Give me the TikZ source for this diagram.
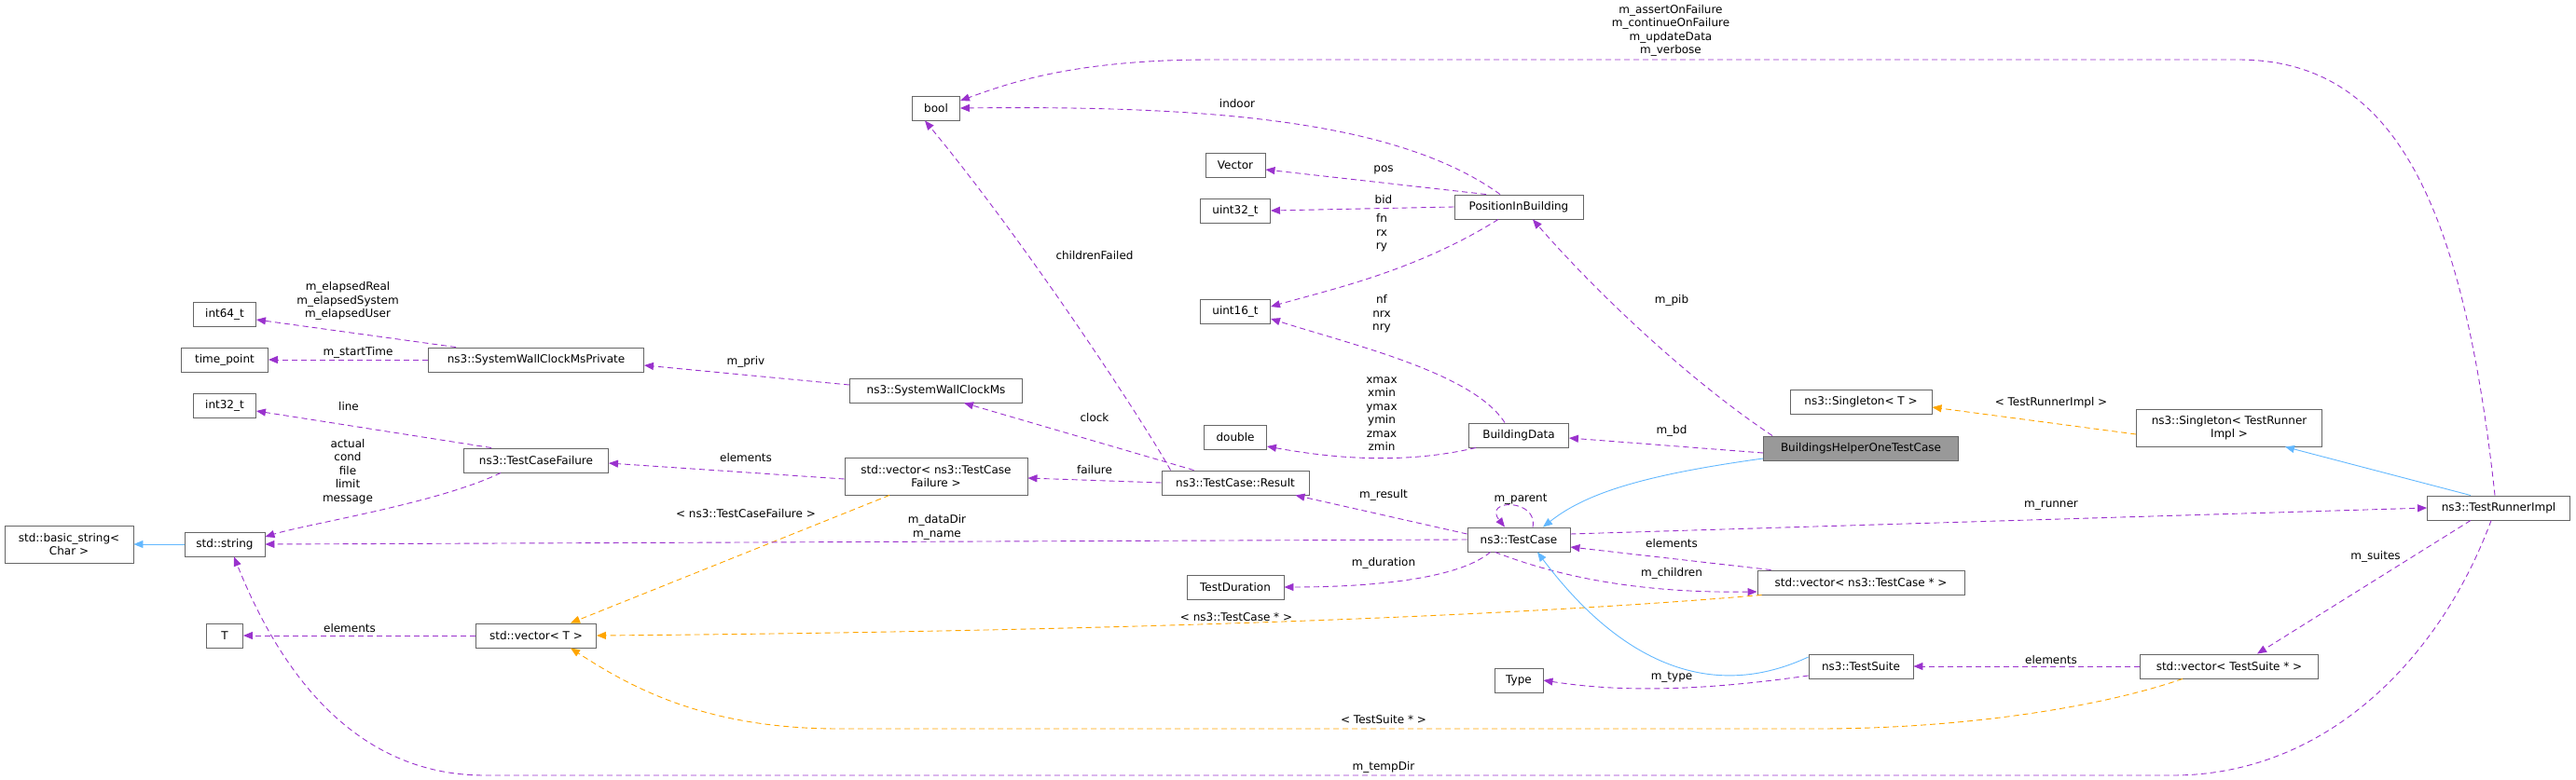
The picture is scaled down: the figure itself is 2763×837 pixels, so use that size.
\documentclass[tikz,border=0pt]{standalone}
\usepackage{fontspec}
\setmainfont{DejaVu Sans}
\usetikzlibrary{arrows.meta}
\definecolor{pu}{HTML}{9A32CD}
\definecolor{orr}{HTML}{FFA500}
\definecolor{bl}{HTML}{63B8FF}
\definecolor{bx}{HTML}{666666}
\begin{document}
\begin{tikzpicture}[x=1pt,y=-1pt,
  box/.style={draw=bx,fill=white,line width=0.9pt,inner sep=0pt,align=center,font=\fontsize{12}{14.5}\selectfont},
  lbl/.style={align=center,font=\fontsize{12}{14.5}\selectfont,inner sep=0pt},
  tip/.style={-{Triangle[length=10pt,width=8pt]}},
  pe/.style={draw=pu,line width=0.9pt,dash pattern=on 6pt off 4pt,tip},
  oe/.style={draw=orr,line width=0.9pt,dash pattern=on 6pt off 4pt,tip},
  be/.style={draw=bl,line width=0.9pt,tip}]
\useasboundingbox (0,0) rectangle (2763,837);
% nodes
\node[box,minimum width=67,minimum height=26] (int64) at (241,337) {int64\_t};
\node[box,minimum width=93,minimum height=26] (tp) at (241,386) {time\_point};
\node[box,minimum width=231,minimum height=26] (swcmp) at (575,386) {ns3::SystemWallClockMsPrivate};
\node[box,minimum width=67,minimum height=26] (int32) at (241,435) {int32\_t};
\node[box,minimum width=155,minimum height=26] (tcf) at (575,494) {ns3::TestCaseFailure};
\node[box,minimum width=138,minimum height=40] (basic) at (74,584) {std::basic\_string\textless\\Char \textgreater};
\node[box,minimum width=86,minimum height=26] (str) at (241,584) {std::string};
\node[box,minimum width=39,minimum height=26] (T) at (241,682) {T};
\node[box,minimum width=129,minimum height=26] (vT) at (575,682) {std::vector\textless{} T \textgreater};
\node[box,minimum width=196,minimum height=40] (vtcf) at (1004,511) {std::vector\textless{} ns3::TestCase\\Failure \textgreater};
\node[box,minimum width=51,minimum height=26] (bool) at (1004,116) {bool};
\node[box,minimum width=64,minimum height=26] (vec) at (1325,177) {Vector};
\node[box,minimum width=75,minimum height=26] (u32) at (1325,226) {uint32\_t};
\node[box,minimum width=138,minimum height=26] (pib) at (1629,222) {PositionInBuilding};
\node[box,minimum width=75,minimum height=26] (u16) at (1325,334) {uint16\_t};
\node[box,minimum width=185,minimum height=26] (swcm) at (1004,419) {ns3::SystemWallClockMs};
\node[box,minimum width=67,minimum height=26] (dbl) at (1325,469) {double};
\node[box,minimum width=107,minimum height=26] (bd) at (1629,467) {BuildingData};
\node[box,minimum width=158,minimum height=26] (res) at (1325,518) {ns3::TestCase::Result};
\node[box,minimum width=110,minimum height=26] (tc) at (1629,579) {ns3::TestCase};
\node[box,minimum width=104,minimum height=26] (td) at (1325,630) {TestDuration};
\node[box,minimum width=52,minimum height=26] (type) at (1629,730) {Type};
\node[box,minimum width=209,minimum height=26,fill={rgb,255:red,153;green,153;blue,153}] (bh) at (1996,481) {BuildingsHelperOneTestCase};
\node[box,minimum width=152,minimum height=26] (sT) at (1996,431) {ns3::Singleton\textless{} T \textgreater};
\node[box,minimum width=199,minimum height=40] (sTRI) at (2391,459) {ns3::Singleton\textless{} TestRunner\\Impl \textgreater};
\node[box,minimum width=153,minimum height=26] (tri) at (2680,545) {ns3::TestRunnerImpl};
\node[box,minimum width=222,minimum height=26] (vtc) at (1996,625) {std::vector\textless{} ns3::TestCase * \textgreater};
\node[box,minimum width=112,minimum height=26] (ts) at (1996,715) {ns3::TestSuite};
\node[box,minimum width=191,minimum height=26] (vts) at (2391,715) {std::vector\textless{} TestSuite * \textgreater};
% edges
\draw[pe] ([xshift=30pt]swcmp.north west) -- ([yshift=-6pt]int64.east);
\draw[pe] (swcmp.west) -- (tp.east);
\draw[pe] ([yshift=6pt]swcm.west) -- ([yshift=-6pt]swcmp.east);
\draw[pe] ([xshift=30pt]tcf.north west) -- ([yshift=-6pt]int32.east);
\draw[pe] ([xshift=-38pt]tcf.south) .. controls (470,540) and (330,562) .. ([yshift=8pt]str.east);
\draw[pe] ([yshift=-3pt]vtcf.west) -- ([yshift=-3pt]tcf.east);
\draw[oe] ([xshift=-50pt]vtcf.south) -- ([xshift=37pt]vT.north);
\draw[be] (str.west) -- (basic.east);
\draw[pe] (tc.west) -- (str.east);
\draw[pe] (vT.west) -- (T.east);
\draw[pe] ([xshift=-8pt]tri.south) .. controls (2620,700) and (2500,832) .. (2330,832) -- (520,832) .. controls (380,832) and (300,720) .. ([xshift=10pt]str.south);
\draw[oe] ([xshift=-50pt]vts.south) .. controls (2250,760) and (2100,782) .. (1950,782) -- (900,782) .. controls (760,782) and (680,740) .. ([xshift=37pt]vT.south);
\draw[oe] ([xshift=5pt]vtc.south west) .. controls (1500,672) and (900,680) .. (vT.east);
\draw[pe] ([xshift=30pt]tc.south west) .. controls (1700,630) and (1800,636) .. ([yshift=-10pt]vtc.west);
\draw[pe] ([xshift=15pt]vtc.north west) -- ([yshift=-8pt]tc.east);
\draw[pe] ([yshift=6pt]tc.east) -- (tri.west);
\draw[pe] ([xshift=25pt]tc.south west) .. controls (1560,625) and (1450,630) .. (td.east);
\draw[pe] ([yshift=6pt]tc.west) -- ([xshift=-15pt]res.south east);
\draw[pe] ([xshift=15pt]tc.north) .. controls (1650,535) and (1590,535) .. ([xshift=-15pt]tc.north);
\draw[be] ([yshift=10pt]ts.west) .. controls (1800,770) and (1700,660) .. ([xshift=20pt]tc.south);
\draw[pe] ([yshift=-10pt]ts.west) .. controls (1800,745) and (1720,740) .. (type.east);
\draw[pe] (vts.west) -- (ts.east);
\draw[pe] ([xshift=-30pt]tri.south) -- ([xshift=30pt]vts.north);
\draw[be] ([xshift=-30pt]tri.north) -- ([xshift=60pt]sTRI.south);
\draw[oe] ([yshift=-7pt]sTRI.west) -- ([yshift=-6pt]sT.east);
\draw[pe] ([xshift=-4pt]tri.north) .. controls (2640,200) and (2560,64) .. (2400,64) -- (1300,64) .. controls (1150,64) and (1080,90) .. ([yshift=8pt]bool.east);
\draw[pe] ([xshift=-20pt]pib.north) .. controls (1500,130) and (1300,113) .. (bool.east);
\draw[pe] ([xshift=-35pt]pib.north) -- ([yshift=-5pt]vec.east);
\draw[pe] (pib.west) -- (u32.east);
\draw[pe] ([xshift=-22pt]pib.south) .. controls (1520,290) and (1430,310) .. ([yshift=5pt]u16.east);
\draw[pe] ([xshift=-15pt]bd.north) .. controls (1580,400) and (1450,370) .. ([yshift=-8pt]u16.east);
\draw[pe] ([xshift=8pt]bd.south west) .. controls (1500,500) and (1420,490) .. ([yshift=-10pt]dbl.east);
\draw[pe] ([xshift=10pt]res.north west) .. controls (1225,450) and (1100,260) .. ([xshift=-12pt]bool.south);
\draw[pe] ([xshift=35pt]res.north west) -- ([xshift=30pt]swcm.south);
\draw[pe] (res.west) -- ([yshift=-2pt]vtcf.east);
\draw[pe] ([xshift=10pt]bh.north west) .. controls (1800,400) and (1700,300) .. ([xshift=15pt]pib.south);
\draw[pe] ([yshift=-5pt]bh.west) -- ([yshift=-3pt]bd.east);
\draw[be] ([yshift=-11pt]bh.west) .. controls (1760,510) and (1700,530) .. ([xshift=26pt]tc.north);
% labels
\node[lbl] (l1) at (373,323) {m\_elapsedReal\\m\_elapsedSystem\\m\_elapsedUser};
\node[lbl] (l2) at (384,378) {m\_startTime};
\node[lbl] (l3) at (800,388) {m\_priv};
\node[lbl] (l4) at (374,436) {line};
\node[lbl] (l5) at (373,506) {actual\\cond\\file\\limit\\message};
\node[lbl] (l6) at (800,491) {elements};
\node[lbl] (l7) at (800,551) {\textless{} ns3::TestCaseFailure \textgreater};
\node[lbl] (l8) at (375,674) {elements};
\node[lbl] (l9) at (1792,33) {m\_assertOnFailure\\m\_continueOnFailure\\m\_updateData\\m\_verbose};
\node[lbl] (l10) at (1327,111) {indoor};
\node[lbl] (l11) at (1484,182) {pos};
\node[lbl] (l12) at (1484,214) {bid};
\node[lbl] (l13) at (1482,250) {fn\\rx\\ry};
\node[lbl] (l14) at (1174,274) {childrenFailed};
\node[lbl] (l15) at (1793,322) {m\_pib};
\node[lbl] (l16) at (1482,337) {nf\\nrx\\nry};
\node[lbl] (l17) at (1482,444) {xmax\\xmin\\ymax\\ymin\\zmax\\zmin};
\node[lbl] (l18) at (1174,448) {clock};
\node[lbl] (l19) at (1793,462) {m\_bd};
\node[lbl] (l20) at (1174,504) {failure};
\node[lbl] (l21) at (1484,531) {m\_result};
\node[lbl] (l22) at (1631,536) {m\_parent};
\node[lbl] (l23) at (1005,566) {m\_dataDir\\m\_name};
\node[lbl] (l24) at (1793,583) {elements};
\node[lbl] (l25) at (1484,604) {m\_duration};
\node[lbl] (l26) at (1793,615) {m\_children};
\node[lbl] (l27) at (1326,662) {\textless{} ns3::TestCase * \textgreater};
\node[lbl] (l28) at (1793,727) {m\_type};
\node[lbl] (l29) at (1484,772) {\textless{} TestSuite * \textgreater};
\node[lbl] (l30) at (1484,823) {m\_tempDir};
\node[lbl] (l31) at (2200,432) {\textless{} TestRunnerImpl \textgreater};
\node[lbl] (l32) at (2200,543) {m\_runner};
\node[lbl] (l33) at (2548,597) {m\_suites};
\node[lbl] (l34) at (2200,708) {elements};
\end{tikzpicture}
\end{document}
